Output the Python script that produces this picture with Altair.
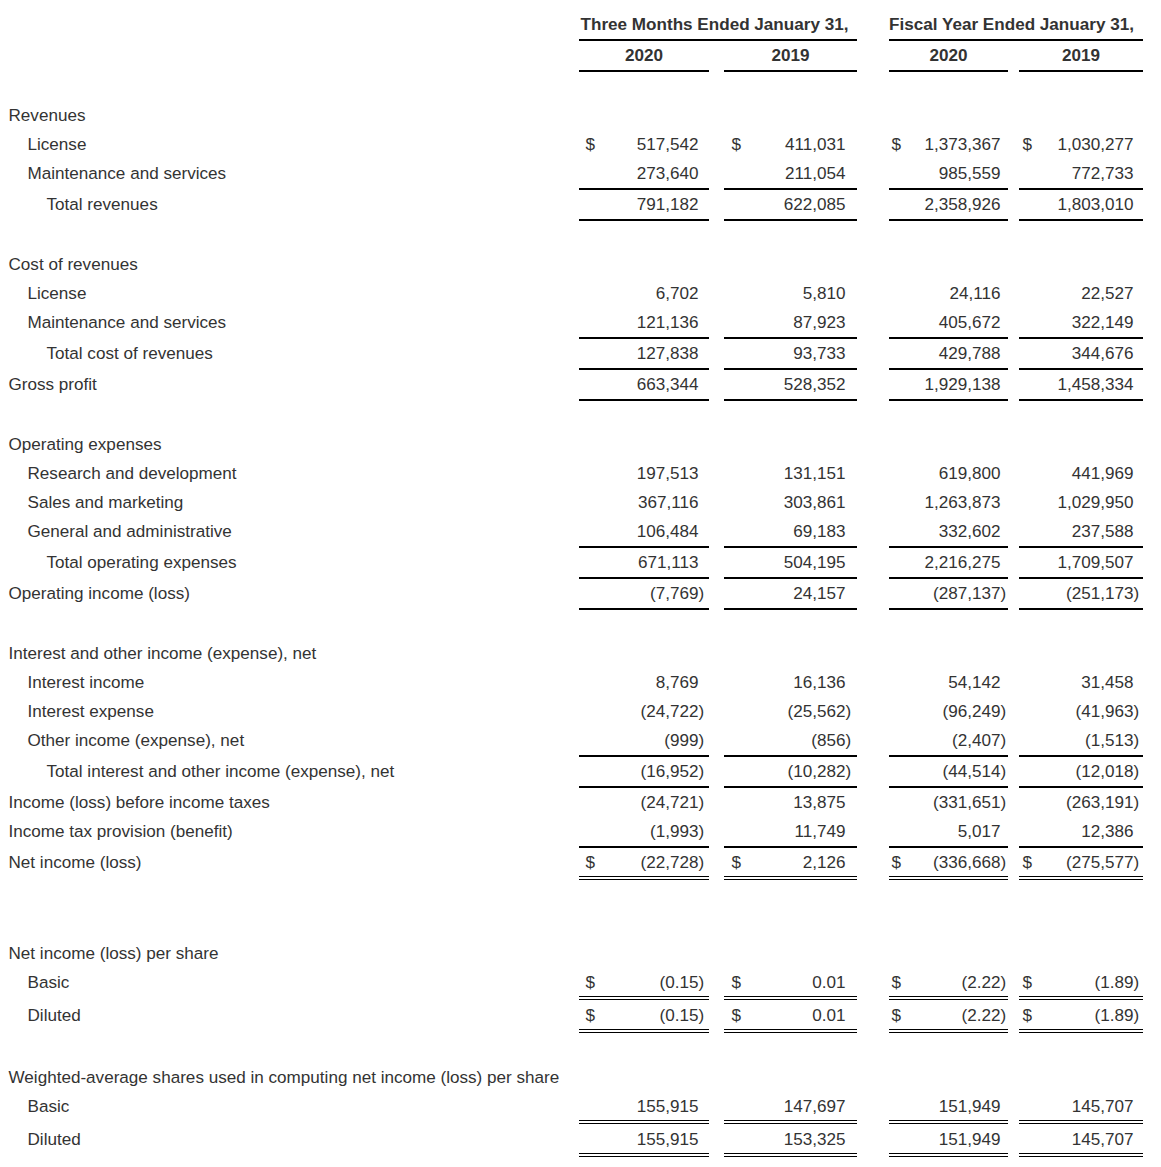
import altair as alt
import pandas as pd

# ---------------- data ----------------
header_groups = ["Three Months Ended January 31,", "Fiscal Year Ended January 31,"]
years = ["2020", "2019", "2020", "2019"]

labels = [
    "Revenues", "License", "Maintenance and services", "Total revenues",
    "Cost of revenues", "License", "Maintenance and services", "Total cost of revenues",
    "Gross profit",
    "Operating expenses", "Research and development", "Sales and marketing",
    "General and administrative", "Total operating expenses", "Operating income (loss)",
    "Interest and other income (expense), net", "Interest income", "Interest expense",
    "Other income (expense), net", "Total interest and other income (expense), net",
    "Income (loss) before income taxes", "Income tax provision (benefit)", "Net income (loss)",
    "Net income (loss) per share", "Basic", "Diluted",
    "Weighted-average shares used in computing net income (loss) per share", "Basic", "Diluted",
]
levels = [0, 1, 1, 2, 0, 1, 1, 2, 0, 0, 1, 1, 1, 2, 0, 0, 1, 1, 1, 2, 0, 0, 0, 0, 1, 1, 0, 1, 1]

three_2020 = [None, 517542, 273640, 791182, None, 6702, 121136, 127838, 663344,
              None, 197513, 367116, 106484, 671113, -7769,
              None, 8769, -24722, -999, -16952, -24721, -1993, -22728,
              None, -0.15, -0.15, None, 155915, 155915]
three_2019 = [None, 411031, 211054, 622085, None, 5810, 87923, 93733, 528352,
              None, 131151, 303861, 69183, 504195, 24157,
              None, 16136, -25562, -856, -10282, 13875, 11749, 2126,
              None, 0.01, 0.01, None, 147697, 153325]
fy_2020 = [None, 1373367, 985559, 2358926, None, 24116, 405672, 429788, 1929138,
           None, 619800, 1263873, 332602, 2216275, -287137,
           None, 54142, -96249, -2407, -44514, -331651, 5017, -336668,
           None, -2.22, -2.22, None, 151949, 151949]
fy_2019 = [None, 1030277, 772733, 1803010, None, 22527, 322149, 344676, 1458334,
           None, 441969, 1029950, 237588, 1709507, -251173,
           None, 31458, -41963, -1513, -12018, -263191, 12386, -275577,
           None, -1.89, -1.89, None, 145707, 145707]
series = [three_2020, three_2019, fy_2020, fy_2019]

dollar_rows = [1, 22, 24, 25]
per_share_rows = [24, 25]
# border under each row: "", "single", "double"
borders = ["", "", "single", "single", "", "", "single", "single", "single",
           "", "", "", "single", "single", "single",
           "", "", "", "single", "single", "", "single", "double",
           "", "double", "double", "", "double", "double"]
blank_after = [0, 0, 0, 1, 0, 0, 0, 0, 1, 0, 0, 0, 0, 0, 1,
               0, 0, 0, 0, 0, 0, 0, 2, 0, 0, 1, 0, 0, 0]

# ---------------- layout (page pixel coordinates) ----------------
COLS = [
    dict(left=579, right=709, dollar=585.5, num=698.5),
    dict(left=724, right=857, dollar=731.5, num=845.5),
    dict(left=889, right=1008, dollar=891.5, num=1000.5),
    dict(left=1019, right=1143, dollar=1022.5, num=1133.5),
]
GROUPS = [dict(left=579, right=857, center=714.5), dict(left=889, right=1143, center=1011.5)]
INDENT = [8.5, 27.5, 46.5]
ROW_PITCH = 29
BORDER_EXTRA = {"": 0, "single": 2, "double": 4}
PAREN_W = 5.7
TITLE_Y, YEAR_Y, FIRST_ROW_Y = 24, 55, 115
TEXT_DY = 1

row_y = []
y = FIRST_ROW_Y
for i in range(len(labels)):
    row_y.append(y)
    y += ROW_PITCH + BORDER_EXTRA[borders[i]] + ROW_PITCH * blank_after[i]


def fmt(v, per_share):
    s = f"{abs(v):,.2f}" if per_share else f"{abs(v):,.0f}"
    return f"({s})" if v < 0 else s


label_rows, value_rows, dollar_pts, single_rules, double_rules = [], [], [], [], []
for i, lab in enumerate(labels):
    label_rows.append(dict(text=lab, x=INDENT[levels[i]], y=row_y[i]))
    for c, col in enumerate(COLS):
        v = series[c][i]
        if v is None:
            continue
        neg = v < 0
        value_rows.append(dict(text=fmt(v, i in per_share_rows),
                               x=col["num"] + (PAREN_W if neg else 0), y=row_y[i]))
        if i in dollar_rows:
            dollar_pts.append(dict(text="$", x=col["dollar"], y=row_y[i]))
        if borders[i] == "single":
            single_rules.append(dict(x=col["left"], x2=col["right"], y=row_y[i] + 16))
        elif borders[i] == "double":
            double_rules.append(dict(x=col["left"], x2=col["right"], y=row_y[i] + 14.5))
            double_rules.append(dict(x=col["left"], x2=col["right"], y=row_y[i] + 17.5))

header_text = [dict(text=g, x=GROUPS[k]["center"], y=TITLE_Y) for k, g in enumerate(header_groups)]
header_text += [dict(text=yr, x=(COLS[k]["left"] + COLS[k]["right"]) / 2, y=YEAR_Y)
                for k, yr in enumerate(years)]
header_rules = [dict(x=g["left"], x2=g["right"], y=TITLE_Y + 16) for g in GROUPS]
header_rules += [dict(x=c["left"], x2=c["right"], y=YEAR_Y + 16) for c in COLS]
single_rules += header_rules

W, H = 1145, 1150
xs = alt.Scale(domain=[8, 8 + W], range=[0, W], nice=False, zero=False)
ys = alt.Scale(domain=[8, 8 + H], range=[0, H], nice=False, zero=False)
X = alt.X("x:Q", scale=xs, axis=None)
Y = alt.Y("y:Q", scale=ys, axis=None)
X2 = alt.X2("x2:Q")
FONT = "Liberation Sans"
FS = 17.1
TXT = "#333333"

labels_layer = alt.Chart(pd.DataFrame(label_rows)).mark_text(
    align="left", baseline="middle", font=FONT, fontSize=FS, color=TXT, dy=TEXT_DY
).encode(x=X, y=Y, text="text:N")

values_layer = alt.Chart(pd.DataFrame(value_rows)).mark_text(
    align="right", baseline="middle", font=FONT, fontSize=FS, color=TXT, dy=TEXT_DY
).encode(x=X, y=Y, text="text:N")

dollar_layer = alt.Chart(pd.DataFrame(dollar_pts)).mark_text(
    align="left", baseline="middle", font=FONT, fontSize=FS, color=TXT, dy=TEXT_DY
).encode(x=X, y=Y, text="text:N")

header_layer = alt.Chart(pd.DataFrame(header_text)).mark_text(
    align="center", baseline="middle", font=FONT, fontSize=FS, fontWeight="bold", color=TXT,
    dy=TEXT_DY
).encode(x=X, y=Y, text="text:N")

single_layer = alt.Chart(pd.DataFrame(single_rules)).mark_rule(
    color="#000000", strokeWidth=2
).encode(x=X, x2=X2, y=Y)

double_layer = alt.Chart(pd.DataFrame(double_rules)).mark_rule(
    color="#000000", strokeWidth=1
).encode(x=X, x2=X2, y=Y)

chart = alt.layer(
    single_layer, double_layer, labels_layer, values_layer, dollar_layer, header_layer
).properties(width=W, height=H, padding=0).configure_view(stroke=None)

chart.save("out.html", embed_options={"renderer": "svg", "actions": False})
